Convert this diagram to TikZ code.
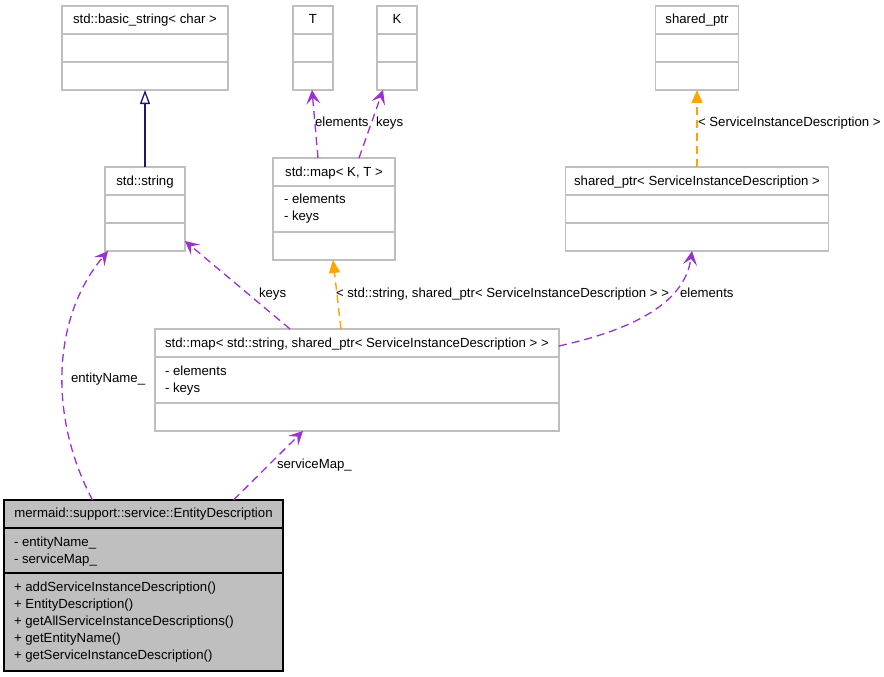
\documentclass[tikz,border=0pt]{standalone}
\usepackage{fontspec}
\setmainfont{Liberation Sans}
\usetikzlibrary{arrows.meta,calc}
\definecolor{purp}{HTML}{9A32CD}
\definecolor{orng}{HTML}{FFA500}
\definecolor{navy}{HTML}{191970}
\definecolor{boxgray}{HTML}{BFBFBF}
\begin{document}
\begin{tikzpicture}[x=1pt,y=-1pt,
  font=\fontsize{13.2}{15}\selectfont,
  cls/.style={draw=boxgray, fill=white, line width=1.2pt, inner sep=0pt, outer sep=0pt},
  ecls/.style={draw=black, fill=boxgray, line width=1.2pt, inner sep=0pt, outer sep=0pt},
  sepl/.style={draw=boxgray, line width=1.2pt},
  esepl/.style={draw=black, line width=1.2pt},
  txt/.style={inner sep=0pt, outer sep=0pt, anchor=base},
  ltxt/.style={inner sep=0pt, outer sep=0pt, anchor=base west},
  inh/.style={draw=navy, line width=1.3pt, -{Triangle[open, length=14pt, width=10pt]}},
  tmpl/.style={draw=orng, line width=1.4pt, dash pattern=on 8pt off 5pt, -{Triangle[length=13pt, width=11pt]}},
  use/.style={draw=purp, line width=1.3pt, dash pattern=on 8pt off 5pt, -{Stealth[length=14pt, width=14pt, inset=6pt]}}
]
\useasboundingbox[fill=white] (0,0) rectangle (884,677);

% boxes
\node[cls, minimum width=166pt, minimum height=84pt] (bs) at (145,48) {};
\draw[sepl] (bs.west |- 0,34) -- (bs.east |- 0,34);
\draw[sepl] (bs.west |- 0,62) -- (bs.east |- 0,62);
\node[txt] (bst) at (145,23.5) {std::basic\_string< char >};

\node[cls, minimum width=80pt, minimum height=84pt] (str) at (145,209) {};
\draw[sepl] (str.west |- 0,195) -- (str.east |- 0,195);
\draw[sepl] (str.west |- 0,223) -- (str.east |- 0,223);
\node[txt] (strt) at (145,185.5) {std::string};

\node[cls, minimum width=40pt, minimum height=84pt] (T) at (313,48) {};
\draw[sepl] (T.west |- 0,34) -- (T.east |- 0,34);
\draw[sepl] (T.west |- 0,62) -- (T.east |- 0,62);
\node[txt] (Tt) at (313,23.5) {T};

\node[cls, minimum width=40pt, minimum height=84pt] (K) at (397,48) {};
\draw[sepl] (K.west |- 0,34) -- (K.east |- 0,34);
\draw[sepl] (K.west |- 0,62) -- (K.east |- 0,62);
\node[txt] (Kt) at (397,23.5) {K};

\node[cls, minimum width=122pt, minimum height=102pt] (mkt) at (334,209) {};
\draw[sepl] (mkt.west |- 0,186) -- (mkt.east |- 0,186);
\draw[sepl] (mkt.west |- 0,232) -- (mkt.east |- 0,232);
\node[txt] (mktt) at (334,176.5) {std::map< K, T >};
\node[ltxt] (mkta) at (284,203.5) {- elements};
\node[ltxt] (mktb) at (284,220.5) {- keys};

\node[cls, minimum width=83pt, minimum height=84pt] (sp) at (697,48) {};
\draw[sepl] (sp.west |- 0,34) -- (sp.east |- 0,34);
\draw[sepl] (sp.west |- 0,62) -- (sp.east |- 0,62);
\node[txt] (spt) at (697,23.5) {shared\_ptr};

\node[cls, minimum width=263pt, minimum height=84pt] (sps) at (697,209) {};
\draw[sepl] (sps.west |- 0,195) -- (sps.east |- 0,195);
\draw[sepl] (sps.west |- 0,223) -- (sps.east |- 0,223);
\node[txt] (spst) at (697,185) {shared\_ptr< ServiceInstanceDescription >};

\node[cls, minimum width=404pt, minimum height=102pt] (bm) at (357,380) {};
\draw[sepl] (bm.west |- 0,357) -- (bm.east |- 0,357);
\draw[sepl] (bm.west |- 0,403) -- (bm.east |- 0,403);
\node[txt] (bmt) at (357,347.5) {std::map< std::string, shared\_ptr< ServiceInstanceDescription > >};
\node[ltxt] (bma) at (165,375.5) {- elements};
\node[ltxt] (bmb) at (165,392.5) {- keys};

\node[ecls, minimum width=279pt, minimum height=171pt] (ent) at (143.5,585.5) {};
\draw[esepl] (ent.west |- 0,528) -- (ent.east |- 0,528);
\draw[esepl] (ent.west |- 0,573) -- (ent.east |- 0,573);
\node[txt] (entt) at (143.5,517.5) {mermaid::support::service::EntityDescription};
\node[ltxt] (enta) at (14,546.5) {- entityName\_};
\node[ltxt] (entb) at (14,563.5) {- serviceMap\_};
\node[ltxt] (entm1) at (14,591) {+ addServiceInstanceDescription()};
\node[ltxt] (entm2) at (14,608) {+ EntityDescription()};
\node[ltxt] (entm3) at (14,625) {+ getAllServiceInstanceDescriptions()};
\node[ltxt] (entm4) at (14,642) {+ getEntityName()};
\node[ltxt] (entm5) at (14,659) {+ getServiceInstanceDescription()};

% connectors
\draw[inh] (str.north) -- (bs.south);
\draw[use] ([xshift=-16pt]mkt.north) -- ([xshift=-1pt]T.south);
\node[ltxt] (lel1) at (315,126.5) {elements};
\draw[use] ([xshift=25pt]mkt.north) -- ([xshift=-14pt]K.south);
\node[ltxt] (lk1) at (376,126.5) {keys};
\draw[tmpl] (sps.north) -- (sp.south);
\node[ltxt] (lsp) at (698,126.5) {< ServiceInstanceDescription >};
\draw[tmpl] ([xshift=-16pt]bm.north) -- ([xshift=-1pt]mkt.south);
\node[ltxt] (lbm) at (336,297.5) {< std::string, shared\_ptr< ServiceInstanceDescription > >};
\draw[use] ([xshift=-67pt]bm.north) -- ([yshift=10pt]str.south east);
\node[ltxt] (lk2) at (259,297.5) {keys};
\draw[use] ([yshift=-17pt]bm.north east) .. controls (640,328) and (685,300) .. ([xshift=-5pt]sps.south);
\node[ltxt] (lel2) at (680,297.5) {elements};
\draw[use] ([xshift=-51pt]ent.north) .. controls (50,420) and (50,320) .. ([xshift=3pt]str.south west);
\node[ltxt] (len) at (71,382.5) {entityName\_};
\draw[use] ([xshift=90pt]ent.north) -- ([xshift=-54pt]bm.south);
\node[ltxt] (lsm) at (277,468.5) {serviceMap\_};
\end{tikzpicture}
\end{document}
